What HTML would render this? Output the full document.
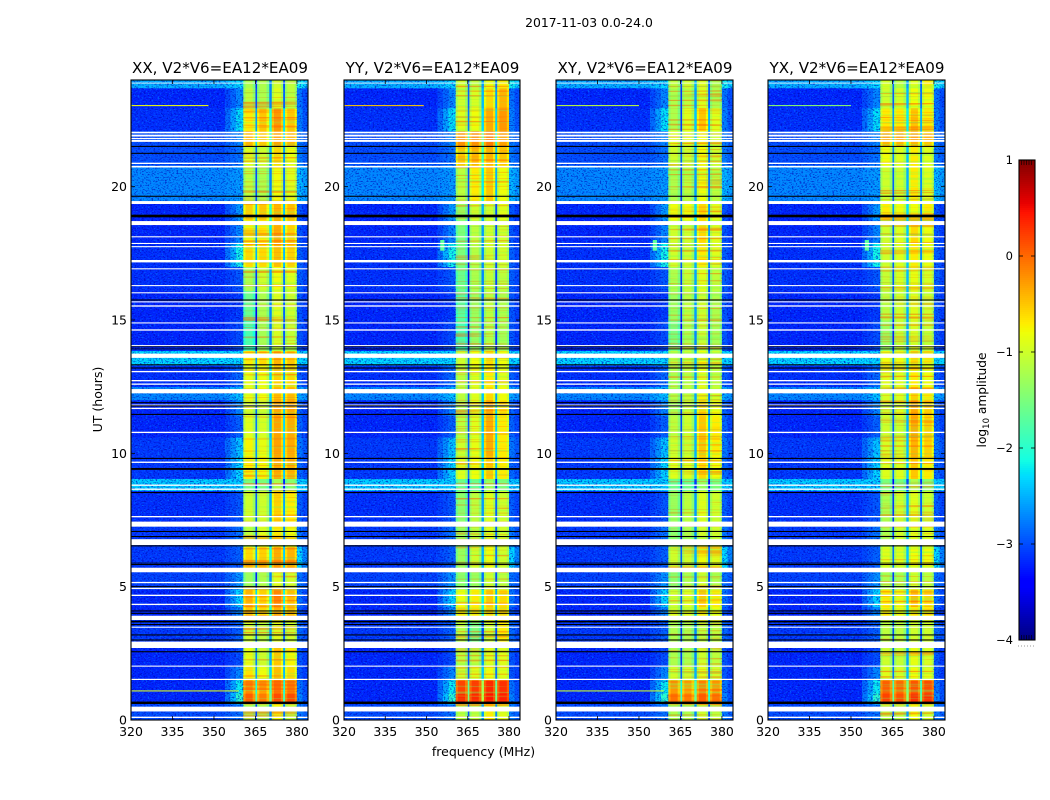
<!DOCTYPE html>
<html>
<head>
<meta charset="utf-8">
<title>2017-11-03 0.0-24.0</title>
<style>
html,body{margin:0;padding:0;background:#fff;}
#figure{display:block;width:1050px;height:800px;}
text{font-family:"DejaVu Sans","Liberation Sans",sans-serif;fill:#000;}
</style>
</head>
<body>
<svg id="figure" xmlns="http://www.w3.org/2000/svg" width="1050" height="800" viewBox="0 0 1050 800">
<defs>
<filter id="specklePale" x="0" y="0" width="100%" height="100%" color-interpolation-filters="sRGB">
<feTurbulence type="fractalNoise" baseFrequency="0.5 0.72" numOctaves="2" seed="7"/>
<feColorMatrix type="matrix" values="0 0 0 0 0  0 0 0 0 0.45  0 0 0 0 1  6 0 0 0 -3.35"/>
</filter>
<filter id="speckleDark" x="0" y="0" width="100%" height="100%" color-interpolation-filters="sRGB">
<feTurbulence type="fractalNoise" baseFrequency="0.52 0.75" numOctaves="2" seed="23"/>
<feColorMatrix type="matrix" values="0 0 0 0 0  0 0 0 0 0  0 0 0 0 0.7  0 6 0 0 -3.2"/>
</filter>
<filter id="stripeHot" x="0" y="0" width="100%" height="100%" color-interpolation-filters="sRGB">
<feTurbulence type="fractalNoise" baseFrequency="0.006 0.42" numOctaves="2" seed="11"/>
<feColorMatrix type="matrix" values="0 0 0 0 1  0 0 0 0 0.32  0 0 0 0 0  5 0 0 0 -2.7"/>
</filter>
<filter id="stripeCool" x="0" y="0" width="100%" height="100%" color-interpolation-filters="sRGB">
<feTurbulence type="fractalNoise" baseFrequency="0.008 0.5" numOctaves="2" seed="31"/>
<feColorMatrix type="matrix" values="0 0 0 0 0.45  0 0 0 0 1  0 0 0 0 0.35  0 5 0 0 -2.8"/>
</filter>
</defs>
<text x="589" y="27" font-size="12.4" text-anchor="middle">2017-11-03 0.0-24.0</text>
<text x="483.5" y="756" font-size="12.5" text-anchor="middle">frequency (MHz)</text>
<text transform="translate(102,399.5) rotate(-90)" font-size="12.5" text-anchor="middle">UT (hours)</text>
<text transform="translate(986,400) rotate(-90)" font-size="12.2" text-anchor="middle">log<tspan font-size="8.5" dy="3">10</tspan><tspan dy="-3"> amplitude</tspan></text>
<g id="panels"></g>
<g id="colorbar"></g>
</svg>
<script>
// ---- Categories and axis data ----
const panelTitles = ['XX, V2*V6=EA12*EA09','YY, V2*V6=EA12*EA09','XY, V2*V6=EA12*EA09','YX, V2*V6=EA12*EA09'];
const freqTicks = [320,335,350,365,380];
const hourTicks = [0,5,10,15,20];
const colorbarTicks = [1,0,-1,-2,-3,-4];

// Frequency channels (MHz) and how each one derives from the per-segment levels
const channelEdges = [320,354,356,358,360.6,361.4,364,365,365.6,366.4,369,370,370.9,371.7,374.2,375,375.7,376.5,379.2,380,382,384];
const channelSource = ['f','w','w','w',0,0,0,0,1,1,1,1,2,2,2,2,3,3,3,'r','r'];
const channelOffset = [0,0.35,0.65,1,-0.25,0,-0.3,-1.9,-0.25,0,-0.3,-1.5,-0.25,0,-0.3,-2,-0.25,0,-0.25,0.8,0.4];

// Time segments (UT hours)
const segmentEdges = [0,0.6,1,1.5,2,2.75,3.75,4.25,4.9,5.6,6.5,7.4,8.6,9.05,9.9,10.6,11.4,12,12.5,13.3,13.85,15,16.1,17,17.9,18.75,19.4,20.8,21.5,22.1,22.95,23.7,24];

// Off-band noise floor and brightening next to the band, log10 amplitude
const floorLevels = [-3,-3.2,-3.2,-3.2,-3.2,-3.1,-3.2,-3.2,-3.05,-3.1,-3.1,-3.15,-2.35,-3.1,-3.1,-3.2,-3.2,-2.7,-3.15,-2.3,-3.2,-3.2,-3.15,-3.15,-3.2,-3.2,-2.7,-3,-3,-3.15,-3.2,-2.5];
const wingBoost = [0.2,1.2,1,0.5,0.2,0.2,0.5,0.9,0.4,0.2,0.3,0.2,0,0.8,0.7,0.3,0.5,0.3,0.3,0,0.2,0.1,0.2,1,0.5,0.6,0.1,0.2,0.3,0.9,0.5,0.2];
const rightBoost = [0.3,0.6,0.5,0.3,0.3,0.3,0.3,0.5,0.3,1,0.4,0.3,0,0.3,0.4,0.4,0.4,0.2,0.3,0,0.3,0.3,0.3,0.3,0.3,0.3,0.3,0.3,0.3,0.5,0.5,0.4];

// Sub-band levels per time segment, one array per polarisation
const xxBands = [[-1.2,-1.2,-0.8,-1.1],[0.05,-0.1,0.15,0.15],[-0.2,-0.3,-0.05,-0.1],[-0.65,-0.8,-0.45,-0.6],[-0.85,-1,-0.5,-0.75],[-1,-1.1,-0.9,-1],[-0.5,-0.6,-0.4,-0.5],[-0.4,-0.55,-0.15,-0.45],[-1.3,-1.2,-0.9,-1],[-0.6,-0.55,-0.35,-0.4],[-1.1,-0.9,-0.7,-0.8],[-1,-1,-0.55,-0.7],[-1.5,-1.5,-1.2,-1.4],[-0.7,-0.75,-0.35,-0.4],[-0.75,-0.85,-0.3,-0.35],[-0.9,-0.95,-0.3,-0.35],[-0.95,-1,-0.35,-0.35],[-0.85,-0.8,-0.45,-0.45],[-0.85,-0.8,-0.55,-0.6],[-0.7,-0.6,-0.4,-0.5],[-1.8,-1.25,-0.95,-1.05],[-1.6,-1.2,-0.9,-1],[-1.2,-1,-0.8,-0.9],[-0.6,-0.6,-0.45,-0.55],[-0.75,-0.7,-0.35,-0.55],[-0.55,-0.5,-0.4,-0.45],[-1.1,-1.2,-0.8,-0.9],[-0.9,-1,-0.6,-0.8],[-0.4,-0.5,-0.3,-0.4],[-0.7,-0.5,-0.25,-0.5],[-1.1,-1.2,-0.9,-1.1],[-1.2,-1.2,-1,-1.1]];
const yyBands = [[-1.1,-1.1,-0.7,-0.9],[0.35,0.35,0.45,0.4],[0.2,0.25,0.35,0.3],[-1,-0.9,-0.8,-0.9],[-1.1,-1.1,-0.9,-0.9],[-1.1,-1.5,-1,-0.7],[-0.7,-0.7,-0.6,-0.6],[-0.8,-0.7,-0.5,-0.6],[-1.4,-1.3,-1,-1.1],[-1.3,-1,-0.8,-1],[-1.3,-1.1,-0.9,-1],[-1.4,-1.1,-0.9,-1],[-1.6,-1.6,-1.3,-1.5],[-0.9,-0.8,-0.5,-0.7],[-1,-0.85,-0.35,-0.7],[-1.1,-0.9,-0.35,-0.7],[-1.2,-0.9,-0.35,-0.6],[-1.1,-0.9,-0.6,-0.8],[-1.1,-0.9,-0.7,-0.9],[-1,-0.8,-0.6,-0.8],[-1.8,-1.35,-1.15,-1.25],[-1.7,-1.3,-1.1,-1.2],[-1.6,-1.2,-1.05,-1.1],[-1.5,-1.15,-1,-1],[-1.5,-1.1,-1,-1],[-1.3,-1,-1,-0.9],[-1.1,-0.7,-0.5,-0.8],[-0.5,-0.4,-0.4,-0.5],[-0.2,-0.2,-0.1,-0.3],[-0.9,-0.8,-0.35,-0.25],[-1,-0.95,-0.6,-0.4],[-1,-1.1,-0.8,-0.7]];
const xyBands = [[-1.2,-1.2,-1,-1.1],[-0.05,-0.1,0.05,-0.05],[-0.25,-0.3,-0.15,-0.25],[-1,-1,-0.9,-1],[-1.2,-1.2,-1,-1.1],[-1.2,-1.2,-1.1,-1.1],[-0.9,-0.9,-0.7,-0.8],[-1,-0.9,-0.5,-0.7],[-1.4,-1.2,-1,-1.2],[-1,-1,-0.8,-0.9],[-1.4,-1.2,-1,-1],[-1.3,-1.1,-0.9,-1],[-1.6,-1.6,-1.3,-1.5],[-0.9,-0.9,-0.6,-0.8],[-1,-1,-0.5,-0.7],[-1.1,-1,-0.5,-0.7],[-1.2,-1,-0.6,-0.8],[-1.15,-1.05,-0.75,-0.95],[-1.2,-1.1,-0.9,-1.1],[-1.1,-1,-0.8,-1],[-1.5,-1.2,-1.05,-1.25],[-1.3,-1.1,-1,-1.2],[-1.2,-1.05,-0.9,-1.1],[-1,-1,-0.7,-0.9],[-1,-1,-0.6,-0.9],[-0.8,-0.8,-0.6,-0.9],[-1.2,-1.1,-0.8,-1.1],[-1,-1,-0.8,-1],[-0.9,-0.9,-0.8,-1],[-1.2,-0.9,-0.5,-0.9],[-1.2,-1.1,-0.9,-1.2],[-1.1,-1,-0.9,-1.2]];
const yxBands = [[-1.1,-1.1,-0.8,-1],[0.2,0.15,0.3,0.3],[0.05,0,0.1,0.15],[-0.9,-0.95,-0.8,-0.9],[-1,-1.05,-0.85,-0.95],[-1.1,-1.1,-1,-1],[-0.7,-0.8,-0.7,-0.7],[-0.7,-0.8,-0.45,-0.6],[-1.2,-1.2,-1,-1.1],[-0.9,-0.9,-0.8,-0.8],[-1.2,-1,-0.9,-0.9],[-1.2,-1,-0.9,-1],[-1.5,-1.5,-1.2,-1.4],[-0.9,-0.9,-0.5,-0.7],[-0.95,-0.95,-0.4,-0.55],[-1,-1,-0.35,-0.55],[-1,-0.9,-0.35,-0.55],[-0.95,-0.9,-0.55,-0.7],[-0.9,-0.9,-0.7,-0.8],[-0.8,-0.8,-0.6,-0.7],[-1.3,-1.05,-0.95,-1.05],[-1.1,-1,-0.9,-1],[-1.05,-0.95,-0.85,-0.95],[-1,-0.9,-0.7,-0.8],[-1,-0.9,-0.6,-0.8],[-0.7,-0.8,-0.8,-0.7],[-1,-1,-0.7,-0.9],[-0.8,-0.9,-0.7,-0.9],[-0.4,-0.4,-0.4,-0.5],[-0.7,-0.7,-0.5,-0.7],[-1,-0.95,-0.8,-0.8],[-0.95,-1.1,-0.9,-0.7]];

// Narrow-band interference: panel, from hour, to hour, from MHz, to MHz, level
const interference = [[0,1.07,1.11,320,359,-0.9],[2,1.07,1.11,320,359,-1],[1,23.02,23.06,320,349,-0.5],[0,23.02,23.06,320,348,-0.8],[2,23.02,23.06,320,350,-1.1],[3,23.02,23.06,320,350,-1.4],[1,17.6,18,355,356.5,-1.7],[2,17.6,18,355,356.5,-1.7],[3,17.6,18,355,356.5,-1.7]];

// Flagged (no data) time ranges, UT hours
const whiteGaps = [[0.075,0.125],[0.32,0.5],[1.5,1.545],[2,2.04],[2.7,2.94],[3.46,3.5],[3.75,3.91],[4.31,4.36],[4.65,4.7],[4.91,4.96],[5.13,5.18],[5.54,5.71],[6.56,6.78],[7.25,7.44],[7.6,7.65],[8.63,8.68],[8.78,8.83],[9.64,9.69],[10.76,10.81],[11.66,11.71],[11.79,11.83],[12.25,12.41],[12.57,12.62],[12.7,12.75],[13.04,13.09],[13.58,13.74],[14.02,14.06],[14.6,14.65],[14.87,14.91],[15.5,15.55],[15.66,15.7],[16,16.04],[16.27,16.31],[16.9,16.94],[17.16,17.25],[17.73,17.77],[17.85,17.89],[18.1,18.14],[18.56,18.71],[19.35,19.46],[20.72,20.78],[20.85,20.9],[21.68,21.75],[21.78,21.83],[21.88,21.95],[22,22.06],[23.87,23.9]];
// Near-zero amplitude time ranges, UT hours
const blackLines = [[0.6,0.69],[2.54,2.58],[2.98,3.02],[3.17,3.21],[3.56,3.6],[3.66,3.72],[3.98,4.02],[4.07,4.11],[4.98,5.02],[5.81,5.85],[5.87,5.9],[6.51,6.55],[6.86,6.9],[7.05,7.09],[8.51,8.55],[9.38,9.45],[9.79,9.83],[11.44,11.48],[11.76,11.8],[11.88,11.92],[13.18,13.22],[13.3,13.34],[13.9,13.93],[13.98,14.01],[15.73,15.77],[18.85,18.95],[19.62,19.66],[21.23,21.27],[21.49,21.53]];

const panelBands = [xxBands,yyBands,xyBands,yxBands];
const panelLeft = [131,344,556,768];
const panelRight = [308,520,733,945];
const plotTop = 80, plotBottom = 720;
const freqMin = 320, freqMax = 384, hourMin = 0, hourMax = 24;
const cbarMin = -4, cbarMax = 1;
const NS = 'http://www.w3.org/2000/svg';

function make(parent, tag, attrs){
  const el = document.createElementNS(NS, tag);
  for (const k in attrs) el.setAttribute(k, attrs[k]);
  parent.appendChild(el);
  return el;
}
function xScale(p, f){ return panelLeft[p] + (f - freqMin) * (panelRight[p] - panelLeft[p]) / (freqMax - freqMin); }
function yScale(h){ return plotBottom - (h - hourMin) * (plotBottom - plotTop) / (hourMax - hourMin); }
function interp(pts, t){
  for (let i = 1; i < pts.length; i++){
    if (t <= pts[i][0]){
      const a = pts[i-1], b = pts[i];
      return a[1] + (b[1] - a[1]) * (t - a[0]) / (b[0] - a[0]);
    }
  }
  return pts[pts.length-1][1];
}
function jet(v){
  const t = Math.max(0, Math.min(1, (v - cbarMin) / (cbarMax - cbarMin)));
  const r = interp([[0,0],[0.35,0],[0.66,1],[0.89,1],[1,0.5]], t);
  const g = interp([[0,0],[0.125,0],[0.375,1],[0.64,1],[0.91,0],[1,0]], t);
  const b = interp([[0,0.5],[0.11,1],[0.34,1],[0.65,0],[1,0]], t);
  return 'rgb(' + Math.round(r*255) + ',' + Math.round(g*255) + ',' + Math.round(b*255) + ')';
}
function cellValue(p, s, c){
  const src = channelSource[c], off = channelOffset[c];
  if (src === 'f') return floorLevels[s];
  if (src === 'w') return floorLevels[s] + wingBoost[s] * off;
  if (src === 'r') return floorLevels[s] + rightBoost[s] * off;
  return panelBands[p][s][src] + off;
}
const panelsRoot = document.getElementById('panels');

panelTitles.forEach(function(title, p){
  const g = make(panelsRoot, 'g', {});
  
  
  const L = panelLeft[p], R = panelRight[p];

  // Heatmap cells
  for (let s = 0; s < segmentEdges.length - 1; s++){
    const y0 = yScale(segmentEdges[s+1]), y1 = yScale(segmentEdges[s]);
    for (let c = 0; c < channelEdges.length - 1; c++){
      const x0 = xScale(p, channelEdges[c]), x1 = xScale(p, channelEdges[c+1]);
      const cell = make(g, 'rect', {x:x0.toFixed(2), y:y0.toFixed(2), width:(x1-x0+0.3).toFixed(2), height:(y1-y0+0.3).toFixed(2), fill:jet(cellValue(p,s,c))});
      
      
    }
  }

  // Speckle texture over the off-band noise floor
  [[freqMin,360.6],[380,freqMax]].forEach(function(range){
    const x0 = xScale(p, range[0]), x1 = xScale(p, range[1]);
    const pale = make(g, 'rect', {x:x0, y:plotTop, width:x1-x0, height:plotBottom-plotTop, filter:'url(#specklePale)', opacity:0.7});
    
    
    const dark = make(g, 'rect', {x:x0, y:plotTop, width:x1-x0, height:plotBottom-plotTop, filter:'url(#speckleDark)', opacity:0.6});
    
    
  });

  // Fine horizontal striping inside the band
  [[360.6,365],[365.6,370],[370.9,375],[375.7,380]].forEach(function(range){
    const x0 = xScale(p, range[0]), x1 = xScale(p, range[1]);
    const hot = make(g, 'rect', {x:x0, y:plotTop, width:x1-x0, height:plotBottom-plotTop, filter:'url(#stripeHot)', opacity:0.5});
    
    
    const cool = make(g, 'rect', {x:x0, y:plotTop, width:x1-x0, height:plotBottom-plotTop, filter:'url(#stripeCool)', opacity:0.4});
    
    
  });

  // Interference
  interference.forEach(function(row){
    if (row[0] !== p) return;
    const x0 = xScale(p, row[3]), x1 = xScale(p, row[4]);
    const y0 = yScale(row[2]), y1 = yScale(row[1]);
    const rfi = make(g, 'rect', {x:x0, y:y0, width:x1-x0, height:y1-y0, fill:jet(row[5])});
    
    
  });

  // Flagged ranges
  whiteGaps.forEach(function(gap){
    const y0 = yScale(gap[1]), y1 = yScale(gap[0]);
    const el = make(g, 'rect', {x:L, y:y0.toFixed(2), width:R-L, height:(y1-y0).toFixed(2), fill:'#fff'});
    
    
  });
  blackLines.forEach(function(gap){
    const y0 = yScale(gap[1]), y1 = yScale(gap[0]);
    const el = make(g, 'rect', {x:L, y:y0.toFixed(2), width:R-L, height:(y1-y0).toFixed(2), fill:'#000'});
    
    
  });

  // Frame
  const frame = make(g, 'rect', {x:L, y:plotTop, width:R-L, height:plotBottom-plotTop, fill:'none', stroke:'#000', 'stroke-width':1.1});
  
  

  // Title
  const t = make(g, 'text', {x:(L+R)/2+0.5, y:73, 'font-size':15.1, 'text-anchor':'middle'});
  t.textContent = title;
  
  

  // X ticks
  freqTicks.forEach(function(f){
    const x = xScale(p, f);
    const a = make(g, 'line', {x1:x, x2:x, y1:plotBottom, y2:plotBottom-4, stroke:'#000', 'stroke-width':0.8});
    
    
    const b = make(g, 'line', {x1:x, x2:x, y1:plotTop, y2:plotTop+4, stroke:'#000', 'stroke-width':0.8});
    
    
    const lab = make(g, 'text', {x:x, y:736, 'font-size':12.5, 'text-anchor':'middle'});
    lab.textContent = f;
    
    
  });

  // Y ticks
  hourTicks.forEach(function(h){
    const y = yScale(h);
    const a = make(g, 'line', {x1:L, x2:L+4, y1:y, y2:y, stroke:'#000', 'stroke-width':0.8});
    
    
    const b = make(g, 'line', {x1:R, x2:R-4, y1:y, y2:y, stroke:'#000', 'stroke-width':0.8});
    
    
    const lab = make(g, 'text', {x:L-4, y:y+4.5, 'font-size':12.5, 'text-anchor':'end'});
    lab.textContent = h;
    
    
  });
});

// Colorbar
const cbar = document.getElementById('colorbar');
const cbarLeft = 1019, cbarRight = 1035, cbarTop = 160, cbarBottom = 640;
function cbarY(v){ return cbarBottom - (v - cbarMin) * (cbarBottom - cbarTop) / (cbarMax - cbarMin); }
for (let py = cbarTop; py < cbarBottom; py += 2){
  const v = cbarMax - (py + 1 - cbarTop) * (cbarMax - cbarMin) / (cbarBottom - cbarTop);
  const seg = make(cbar, 'rect', {x:cbarLeft, y:py, width:cbarRight-cbarLeft, height:2.3, fill:jet(v)});
  
  
}
const cbarFrame = make(cbar, 'rect', {x:cbarLeft, y:cbarTop, width:cbarRight-cbarLeft, height:cbarBottom-cbarTop, fill:'none', stroke:'#000', 'stroke-width':1.1});


colorbarTicks.forEach(function(v){
  const y = cbarY(v);
  const a = make(cbar, 'line', {x1:cbarLeft, x2:cbarLeft+4, y1:y, y2:y, stroke:'#000', 'stroke-width':0.8});
  
  
  const b = make(cbar, 'line', {x1:cbarRight, x2:cbarRight-4, y1:y, y2:y, stroke:'#000', 'stroke-width':0.8});
  
  
  const lab = make(cbar, 'text', {x:1013, y:y+4, 'font-size':11.5, 'text-anchor':'end'});
  lab.textContent = v < 0 ? '\u2212' + Math.abs(v) : String(v);
  
  
});
[1021.5,1024,1026.5,1029,1031.5].forEach(function(x){
  const top = make(cbar, 'line', {x1:x, x2:x, y1:cbarTop, y2:cbarTop+5, stroke:'#000', 'stroke-width':0.6});
  
  
  const bot = make(cbar, 'line', {x1:x, x2:x, y1:cbarBottom, y2:cbarBottom-5, stroke:'#000', 'stroke-width':0.6});
  
  
});
[1018,1021,1024,1027,1030,1033].forEach(function(x){
  const dot = make(cbar, 'rect', {x:x, y:645.5, width:1, height:1, fill:'#999'});
  
  
});
</script>
</body>
</html>
